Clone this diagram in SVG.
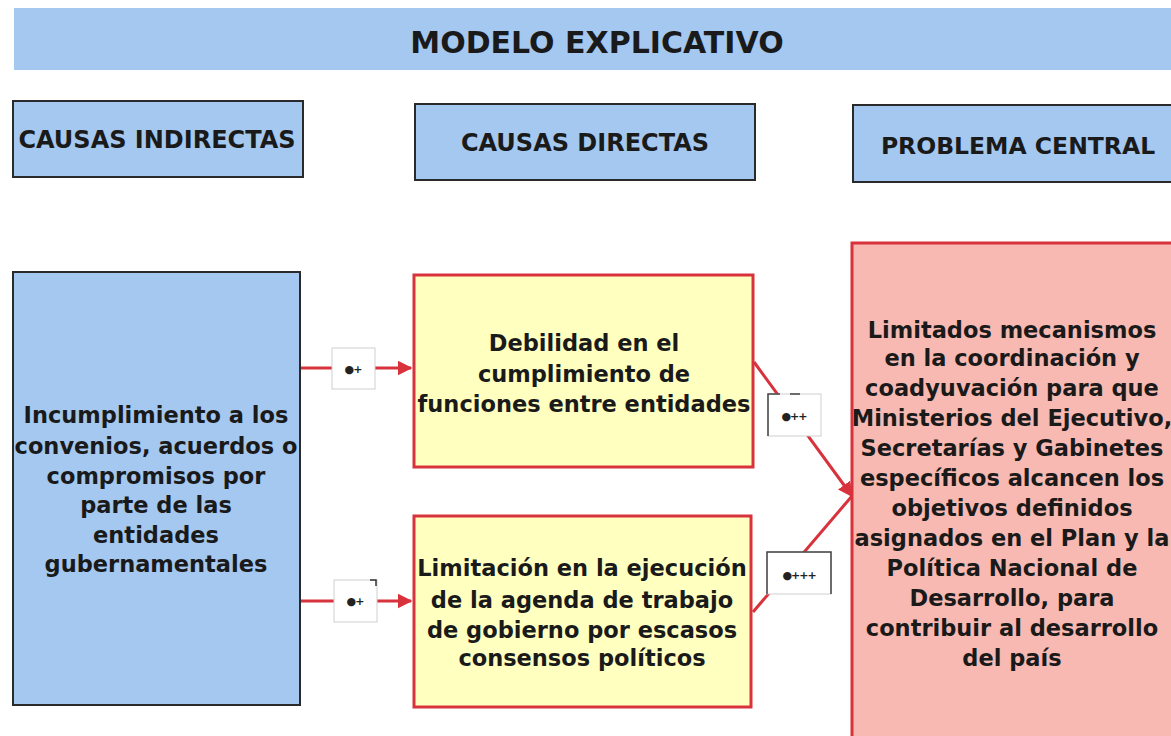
<svg xmlns="http://www.w3.org/2000/svg" width="1171" height="736" viewBox="0 0 1171 736">
<style>
.t{font-family:"DejaVu Sans",Verdana,sans-serif;font-weight:bold;fill:#1a1a1a;text-anchor:middle}
.hdr{fill:#a4c8f0;stroke:#2a2a2a;stroke-width:2}
.red{stroke:#d8323c;stroke-width:3;fill:none}
.lbl{fill:#ffffff;stroke:#cfcfcf;stroke-width:1}
.sym{font-family:"DejaVu Sans",sans-serif;font-size:11px;font-weight:bold;fill:#222;text-anchor:middle;letter-spacing:-1px}
</style>
<defs>
<marker id="ah" viewBox="0 0 10 10" refX="9" refY="5" markerWidth="5" markerHeight="5" orient="auto" markerUnits="strokeWidth">
<path d="M0,0 L10,5 L0,10 z" fill="#d8323c"/>
</marker>
</defs>
<rect width="1171" height="736" fill="#ffffff"/>
<g id="title">
<rect x="14" y="8" width="1157" height="62" fill="#a4c8f0"/>
<text class="t" x="597" y="53" font-size="30">MODELO EXPLICATIVO</text>
</g>
<g id="h1"><rect class="hdr" x="13" y="101" width="290" height="76"/><text class="t" x="157" y="148" font-size="24">CAUSAS INDIRECTAS</text></g>
<g id="h2"><rect class="hdr" x="415" y="104" width="340" height="76"/><text class="t" x="585" y="151" font-size="24">CAUSAS DIRECTAS</text></g>
<g id="h3"><rect class="hdr" x="853" y="105" width="330" height="77"/><text class="t" x="1018" y="154" font-size="23.5">PROBLEMA CENTRAL</text></g>
<g id="connectors">
<line class="red" x1="301" y1="368" x2="411" y2="368" marker-end="url(#ah)"/>
<line class="red" x1="301" y1="601" x2="411" y2="601" marker-end="url(#ah)"/>
<polyline class="red" points="754,362 852,496" marker-end="url(#ah)"/>
<line class="red" x1="753" y1="612" x2="852" y2="496"/>
<rect class="lbl" x="332" y="348" width="43" height="41"/>
<text class="sym" x="353" y="373">●+</text>
<rect class="lbl" x="334" y="580" width="43" height="42"/>
<path d="M370,580 h6 v6" stroke="#333" fill="none" stroke-width="1.5"/>
<text class="sym" x="355" y="605">●+</text>
<rect class="lbl" x="768" y="394" width="53" height="42"/>
<path d="M768,436 v-42 h12 M790,394 h10" stroke="#444" fill="none" stroke-width="1.5"/>
<text class="sym" x="794" y="420">●++</text>
<rect class="lbl" x="767" y="552" width="64" height="42"/>
<path d="M767,594 v-42 h64 v42" stroke="#444" fill="none" stroke-width="1.5"/>
<text class="sym" x="799" y="579">●+++</text>
</g>
<g id="left">
<rect x="13" y="272" width="287" height="433" fill="#a4c8f0" stroke="#2a2a2a" stroke-width="2"/>
<text class="t" font-size="22.5"><tspan x="156" y="423">Incumplimiento a los</tspan><tspan x="156" y="454">convenios, acuerdos o</tspan><tspan x="156" y="484">compromisos por</tspan><tspan x="156" y="513">parte de las</tspan><tspan x="156" y="543">entidades</tspan><tspan x="156" y="572">gubernamentales</tspan></text>
</g>
<g id="y1">
<rect x="414" y="275" width="339" height="192" fill="#ffffc0" stroke="#d8323c" stroke-width="3"/>
<text class="t" font-size="22.5"><tspan x="584" y="351">Debilidad en el</tspan><tspan x="584" y="382">cumplimiento de</tspan><tspan x="584" y="412">funciones entre entidades</tspan></text>
</g>
<g id="y2">
<rect x="414" y="516" width="337" height="191" fill="#ffffc0" stroke="#d8323c" stroke-width="3"/>
<text class="t" font-size="22.5"><tspan x="582" y="576">Limitación en la ejecución</tspan><tspan x="582" y="608">de la agenda de trabajo</tspan><tspan x="582" y="638">de gobierno por escasos</tspan><tspan x="582" y="666">consensos  políticos</tspan></text>
</g>
<g id="central">
<rect x="852" y="243" width="330" height="500" fill="#f7b9b1" stroke="#d8323c" stroke-width="3"/>
<text class="t" font-size="22.5"><tspan x="1012" y="338">Limitados mecanismos</tspan><tspan x="1012" y="366">en la coordinación y</tspan><tspan x="1012" y="396">coadyuvación para que</tspan><tspan x="1012" y="426">Ministerios del Ejecutivo,</tspan><tspan x="1012" y="456">Secretarías y Gabinetes</tspan><tspan x="1012" y="486">específicos alcancen los</tspan><tspan x="1012" y="516">objetivos definidos</tspan><tspan x="1012" y="546">asignados en el Plan y la</tspan><tspan x="1012" y="576">Política Nacional de</tspan><tspan x="1012" y="606">Desarrollo, para</tspan><tspan x="1012" y="636">contribuir al desarrollo</tspan><tspan x="1012" y="666">del país</tspan></text>
</g>
</svg>
